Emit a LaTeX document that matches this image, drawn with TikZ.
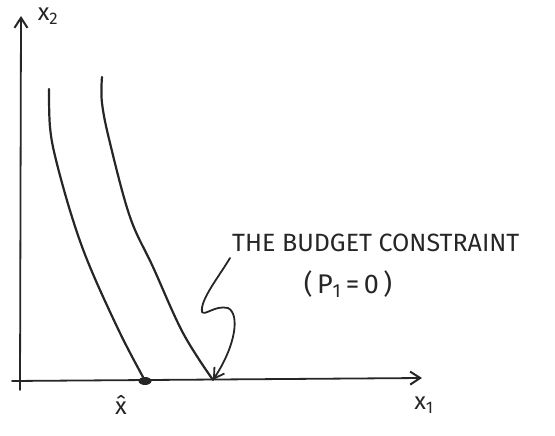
\documentclass[tikz,border=0pt]{standalone}
\usepackage{fontspec}
\setmainfont{Fira Sans}
\usetikzlibrary{arrows.meta}
\begin{document}
\begin{tikzpicture}[x=1pt,y=-1pt,
  ink/.style={line width=2.2pt,line cap=round,line join=round,color=black!85},
  axis/.style={ink,line width=1.8pt,-{Straight Barb[length=10pt,width=13pt,line width=2pt]}},
  lbl/.style={inner sep=0pt,font=\fontsize{25}{30}\selectfont,text=black!85},
  var/.style={inner sep=0pt,font=\fontsize{24}{28}\selectfont,text=black!85}]
\useasboundingbox (0,0) rectangle (555,436);
\coordinate (ytop) at (21,16);
\coordinate (xend) at (422,378);
\coordinate (ybot) at (20,390);
\coordinate (xbeg) at (12,381);
\draw[axis] (ybot) -- (ytop);
\draw[axis] (xbeg) -- (xend);
\node[var] (x2) at (48,16) {x\textsubscript{2}};
\node[var] (x1) at (424,405) {x\textsubscript{1}};
% indifference curves
\draw[ink] plot[smooth,tension=0.6] coordinates {(49,89) (50,127) (56,160) (72,217) (90,267) (120,333) (143,377)};
\coordinate (ld) at (145,381);
\draw[ink] plot[smooth,tension=0.6] coordinates {(102,77) (102,103) (110,143) (130,217) (153,267) (183,333) (213,380)};
\fill[black!85] (ld) ellipse (6.5pt and 4pt);
\coordinate (rd) at (213,380);
\node[var] (xhat) at (121,405) {\^{x}};
% budget constraint label
\node[lbl,anchor=west] (bc) at (232,243) {THE BUDGET CONSTRAINT};
\node[lbl] (p1) at (348,284) {\fontsize{27}{30}\selectfont(\,P\textsubscript{1}\,=\,0\,)};
\coordinate (sq) at (230,258);
\draw[ink,line width=1.8pt,-{Straight Barb[length=10pt,width=12pt,line width=1.8pt]}]
  (sq) .. controls (218,278) and (200,300) .. (202,312)
  .. controls (205,316) and (215,305) .. (228,308)
  .. controls (240,314) and (236,345) .. (rd);
\end{tikzpicture}
\end{document}
